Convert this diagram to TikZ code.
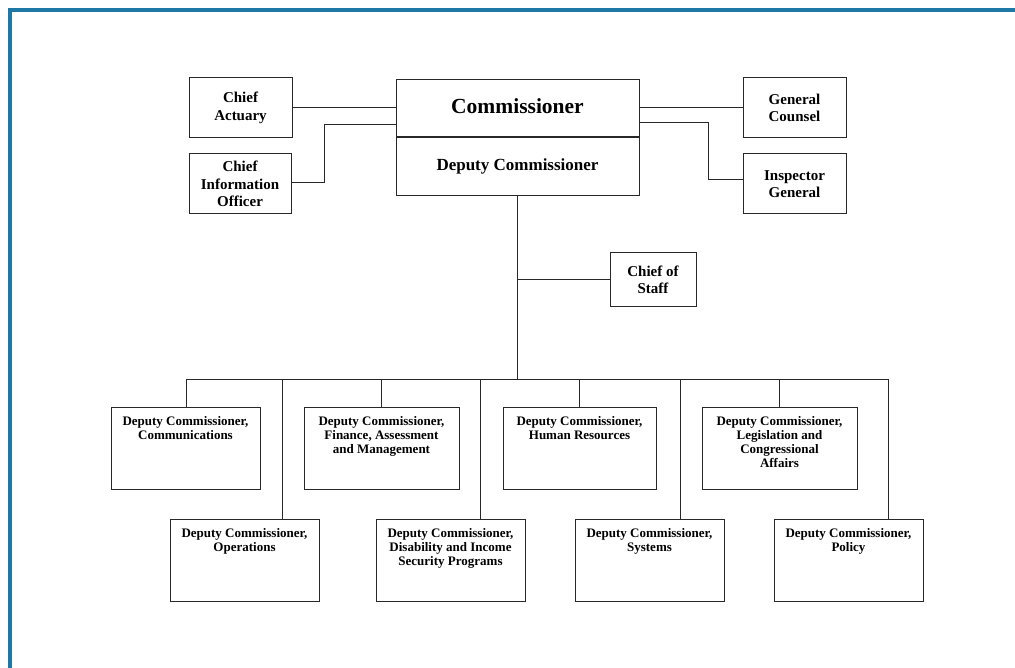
\documentclass[tikz,border=0pt]{standalone}
\usepackage{fontspec}
\setmainfont{Liberation Serif}
\definecolor{frameblue}{RGB}{30,120,165}
\definecolor{linegray}{RGB}{40,40,40}
\begin{document}
\begin{tikzpicture}[x=1pt,y=-1pt,
  box/.style={draw=linegray,line width=1pt,rectangle,inner sep=0pt,align=center,font=\bfseries\fontsize{15}{17.5}\selectfont},
  plain/.style={draw=linegray,line width=1pt,rectangle,inner sep=0pt},
  dbox/.style={draw=linegray,line width=1pt,rectangle,inner sep=0pt,minimum height=82pt},
  dlabel/.style={anchor=north,align=center,inner sep=0pt,font=\bfseries\fontsize{13}{14}\selectfont},
  conn/.style={draw=linegray,line width=1pt}]
\useasboundingbox (0,0) rectangle (1015,668);
\fill[white] (0,0) rectangle (1015,668);
\fill[frameblue] (8,8) rectangle (1015,12);
\fill[frameblue] (8,8) rectangle (12,668);

% top group
\node[box,minimum width=103pt,minimum height=60pt] (actuary) at (240.5,108) {Chief\\Actuary};
\node[box,minimum width=102pt,minimum height=60pt] (cio) at (240,184) {Chief\\Information\\Officer};
\node[plain,minimum width=243pt,minimum height=57pt] (comm) at (517.5,108.5) {};
\node[plain,minimum width=243pt,minimum height=58pt,anchor=north] (deputy) at (comm.south) {};
\node[anchor=base,inner sep=0pt,font=\bfseries\fontsize{21.5}{24}\selectfont] (commtext) at (517.5,113.5) {Commissioner};
\node[anchor=base,inner sep=0pt,font=\bfseries\fontsize{17}{20}\selectfont] (deptext) at (517.5,170.5) {Deputy Commissioner};
\node[box,minimum width=103pt,minimum height=60pt] (gc) at (794.5,108) {General\\Counsel};
\node[box,minimum width=103pt,minimum height=60pt] (ig) at (794.5,184) {Inspector\\General};
\node[box,minimum width=86pt,minimum height=54pt] (cos) at (653,280) {Chief of\\Staff};

% deputy commissioners, top row
\node[dbox,minimum width=149pt,label={[dlabel,yshift=-10pt]north:Deputy Commissioner,\\Communications}] (comms) at (185.5,448) {};
\node[dbox,minimum width=155pt,label={[dlabel,yshift=-10pt]north:Deputy Commissioner,\\Finance, Assessment\\and Management}] (fin) at (381.5,448) {};
\node[dbox,minimum width=153pt,label={[dlabel,yshift=-10pt]north:Deputy Commissioner,\\Human Resources}] (hr) at (579.5,448) {};
\node[dbox,minimum width=155pt,label={[dlabel,yshift=-10pt]north:Deputy Commissioner,\\Legislation and\\Congressional\\Affairs}] (leg) at (779.5,448) {};
% bottom row
\node[dbox,minimum width=149pt,label={[dlabel,yshift=-10pt]north:Deputy Commissioner,\\Operations}] (ops) at (244.5,560) {};
\node[dbox,minimum width=149pt,label={[dlabel,yshift=-10pt]north:Deputy Commissioner,\\Disability and Income\\Security Programs}] (dis) at (450.5,560) {};
\node[dbox,minimum width=149pt,label={[dlabel,yshift=-10pt]north:Deputy Commissioner,\\Systems}] (sys) at (649.5,560) {};
\node[dbox,minimum width=149pt,label={[dlabel,yshift=-10pt]north:Deputy Commissioner,\\Policy}] (pol) at (848.5,560) {};

% coordinates
\coordinate (busL) at (186,379);
\coordinate (busR) at (888,379);
\coordinate (busC) at (deputy.south |- busL);
\coordinate (cosJ) at (deputy.south |- cos.west);
\coordinate (opsJ) at (282,379);
\coordinate (disJ) at (480,379);
\coordinate (sysJ) at (680,379);

% connectors
\draw[conn] (actuary.east) -- (actuary.east -| comm.west);
\draw[conn] ([yshift=1pt]cio.east) -- ++(33,0) |- ([yshift=-16pt]comm.west);
\draw[conn] (gc.west) -- (gc.west -| comm.east);
\draw[conn] ([yshift=4pt]ig.west) -- ++(-34,0) |- ([yshift=-14pt]comm.east);
\draw[conn] (deputy.south) -- (busC);
\draw[conn] (cosJ) -- (cos.west);
\draw[conn] (busL) -- (busR);
\draw[conn] (busL) -- (busL |- comms.north);
\draw[conn] (fin.north |- busL) -- (fin.north);
\draw[conn] (hr.north |- busL) -- (hr.north);
\draw[conn] (leg.north |- busL) -- (leg.north);
\draw[conn] (opsJ) -- (opsJ |- ops.north);
\draw[conn] (disJ) -- (disJ |- dis.north);
\draw[conn] (sysJ) -- (sysJ |- sys.north);
\draw[conn] (busR) -- (busR |- pol.north);
\end{tikzpicture}
\end{document}
